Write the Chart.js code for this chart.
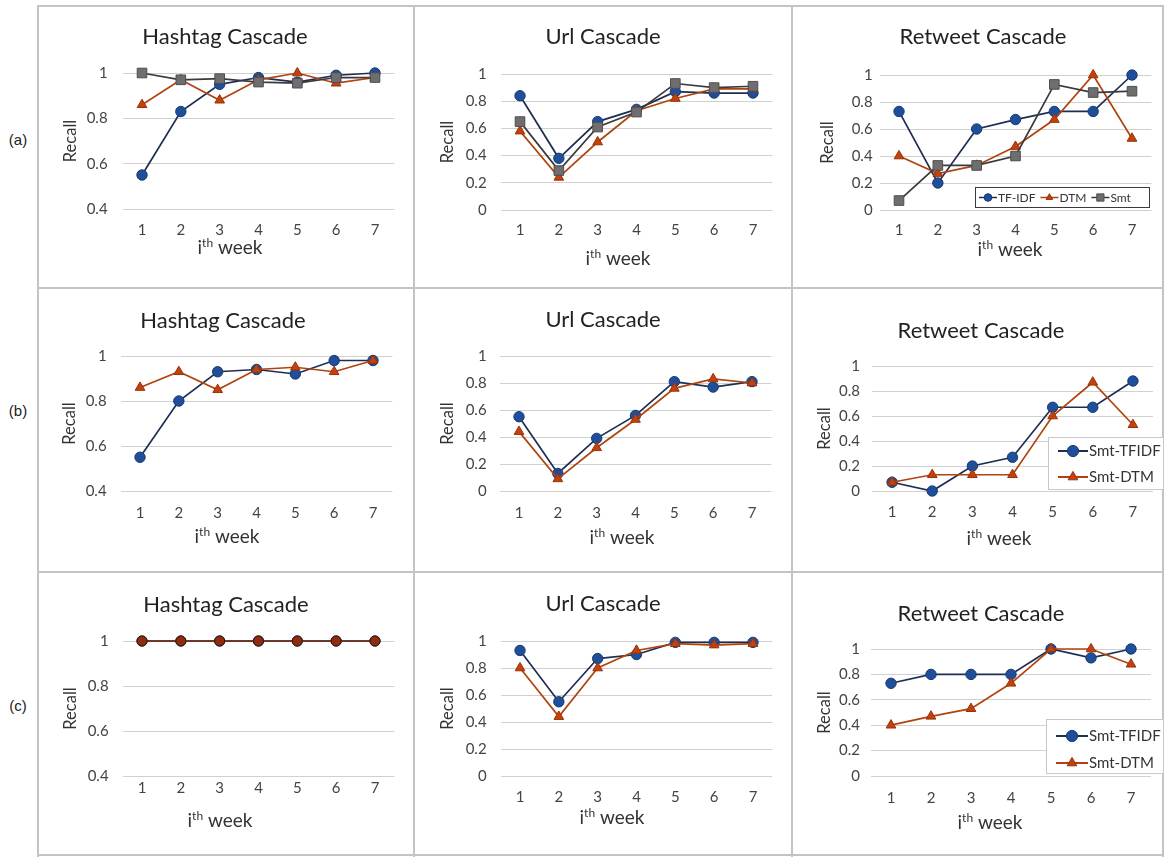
<!DOCTYPE html>
<html><head><meta charset="utf-8">
<script src="https://cdn.jsdelivr.net/npm/chart.js@4.4.0/dist/chart.umd.min.js"></script>
<style>
html,body{margin:0;padding:0;background:#fff;overflow:hidden;width:1164px;height:857px;}
.ln{position:absolute;background:#c4c4c4;}
.lab{position:absolute;font-family:'Liberation Sans',Arial,sans-serif;font-size:15px;color:#222;transform:translate(-50%,-50%);}
canvas{position:absolute;}
</style></head><body>
<div class="lab" style="left:18px;top:139px">(a)</div>
<div class="lab" style="left:18px;top:410px">(b)</div>
<div class="lab" style="left:18px;top:705px">(c)</div>
<div class="ln" style="left:37px;top:6px;width:2px;height:851px"></div>
<div class="ln" style="left:413px;top:6px;width:2px;height:851px"></div>
<div class="ln" style="left:791px;top:6px;width:2px;height:851px"></div>
<div class="ln" style="left:1162px;top:6px;width:2px;height:851px"></div>
<div class="ln" style="left:37px;top:5px;width:1127px;height:2px"></div>
<div class="ln" style="left:37px;top:287px;width:1127px;height:2px"></div>
<div class="ln" style="left:37px;top:571px;width:1127px;height:2px"></div>
<div class="ln" style="left:37px;top:854px;width:1127px;height:2px"></div>
<script>
// ---------------- data ----------------
const weeks = ['1','2','3','4','5','6','7'];
const xTitleParts = ['i', 'th', ' week'];
const yTitle = 'Recall';
const titles = ['Hashtag Cascade', 'Url Cascade', 'Retweet Cascade'];
const seriesNamesA = ['TF-IDF', 'DTM', 'Smt'];
const seriesNamesBC = ['Smt-TFIDF', 'Smt-DTM'];
const yMins = [0.4, 0, 0];

// (a)
const hashA_tfidf = [0.55, 0.83, 0.95, 0.98, 0.96, 0.99, 1.00];
const hashA_dtm   = [0.86, 0.97, 0.88, 0.97, 1.00, 0.955, 0.98];
const hashA_smt   = [1.00, 0.97, 0.975, 0.96, 0.955, 0.98, 0.98];
const urlA_tfidf  = [0.84, 0.38, 0.65, 0.74, 0.87, 0.86, 0.86];
const urlA_dtm    = [0.58, 0.24, 0.50, 0.73, 0.82, 0.89, 0.89];
const urlA_smt    = [0.65, 0.29, 0.61, 0.72, 0.93, 0.90, 0.91];
const rtA_tfidf   = [0.73, 0.20, 0.60, 0.67, 0.73, 0.73, 1.00];
const rtA_dtm     = [0.40, 0.27, 0.33, 0.47, 0.67, 1.00, 0.53];
const rtA_smt     = [0.07, 0.33, 0.33, 0.40, 0.93, 0.87, 0.88];
// (b)
const hashB_tfidf = [0.55, 0.80, 0.93, 0.94, 0.92, 0.98, 0.98];
const hashB_dtm   = [0.86, 0.93, 0.85, 0.94, 0.95, 0.93, 0.98];
const urlB_tfidf  = [0.55, 0.13, 0.39, 0.56, 0.81, 0.77, 0.81];
const urlB_dtm    = [0.44, 0.09, 0.32, 0.53, 0.76, 0.83, 0.80];
const rtB_tfidf   = [0.07, 0.00, 0.20, 0.27, 0.67, 0.67, 0.88];
const rtB_dtm     = [0.07, 0.13, 0.13, 0.13, 0.60, 0.87, 0.53];
// (c)
const hashC_tfidf = [1, 1, 1, 1, 1, 1, 1];
const hashC_dtm   = [1, 1, 1, 1, 1, 1, 1];
const urlC_tfidf  = [0.93, 0.55, 0.87, 0.90, 0.99, 0.99, 0.99];
const urlC_dtm    = [0.80, 0.44, 0.80, 0.93, 0.98, 0.97, 0.98];
const rtC_tfidf   = [0.73, 0.80, 0.80, 0.80, 1.00, 0.93, 1.00];
const rtC_dtm     = [0.40, 0.47, 0.53, 0.73, 1.00, 1.00, 0.88];

// ---------------- styling ----------------
const FONT = 'Lato, "Liberation Sans", sans-serif';
Chart.defaults.font.family = FONT;
const STY = {
  tfidf: {borderColor:'#1e2d50', pointBackgroundColor:'#1f4e9a', pointBorderColor:'#173a70', pointStyle:'circle', pointRadius:5.2},
  dtm:   {borderColor:'#b0440f', pointBackgroundColor:'#c2410c', pointBorderColor:'#983208', pointStyle:'triangle', pointRadius:5.6},
  smt:   {borderColor:'#3a3a3a', pointBackgroundColor:'#6e6e6e', pointBorderColor:'#4e4e4e', pointStyle:'rect', pointRadius:6.8},
  dtmDot:{borderColor:'#7a2a10', pointBackgroundColor:'#8e2c10', pointBorderColor:'#3d1408', pointStyle:'circle', pointRadius:5}
};
function ds(label, data, sty, order) {
  return Object.assign({label, data, order, borderWidth:1.7, pointBorderWidth:1, pointHoverRadius:5, tension:0, clip:false, fill:false}, STY[sty]);
}

function drawMarker(ctx, style, x, y, r, fill, stroke) {
  ctx.beginPath();
  if (style === 'circle') ctx.arc(x, y, r, 0, Math.PI*2);
  else if (style === 'triangle') {
    ctx.moveTo(x, y - r);
    ctx.lineTo(x + r*0.866, y + r*0.5);
    ctx.lineTo(x - r*0.866, y + r*0.5);
    ctx.closePath();
  } else { const s = r*Math.SQRT1_2; ctx.rect(x - s, y - s, 2*s, 2*s); }
  ctx.fillStyle = fill; ctx.fill();
  ctx.lineWidth = 1; ctx.strokeStyle = stroke; ctx.stroke();
}

const boxLegend = {
  id: 'boxLegend',
  afterDraw(chart, args, o) {
    if (!o || !o.box) return;
    const ctx = chart.ctx, ox = o.ox, oy = o.oy;
    ctx.save();
    const [bx, by, bw, bh] = o.box;
    ctx.fillStyle = '#fff';
    ctx.fillRect(bx - ox, by - oy, bw, bh);
    ctx.strokeStyle = o.border; ctx.lineWidth = 1;
    ctx.strokeRect(bx - ox + 0.5, by - oy + 0.5, bw - 1, bh - 1);
    ctx.font = o.size + 'px ' + FONT;
    ctx.textBaseline = 'middle'; ctx.textAlign = 'left';
    let x = o.x - ox;
    chart.data.datasets.forEach((d, i) => {
      const y = (o.rows ? o.rows[i] : o.y) - oy;
      if (o.rows) x = o.x - ox;
      ctx.strokeStyle = d.borderColor; ctx.lineWidth = o.lw;
      ctx.beginPath(); ctx.moveTo(x, y); ctx.lineTo(x + o.symW, y); ctx.stroke();
      drawMarker(ctx, d.pointStyle, x + o.symW/2, y, o.mr * (d.pointStyle === 'rect' ? 1.35 : 1), d.pointBackgroundColor, d.pointBorderColor);
      ctx.fillStyle = '#333';
      ctx.fillText(d.label, x + o.symW + 1, y + 0.5);
      x += o.symW + 1 + ctx.measureText(d.label).width + o.gap;
    });
    ctx.restore();
  }
};

const weekTitle = {
  id: 'weekTitle',
  afterDraw(chart, args, o) {
    if (!o || o.x == null) return;
    const ctx = chart.ctx;
    ctx.save();
    ctx.fillStyle = '#333';
    ctx.textBaseline = 'alphabetic'; ctx.textAlign = 'left';
    const big = o.size + 'px ' + FONT, small = Math.round(o.size*0.62) + 'px ' + FONT;
    ctx.font = big; const wi = ctx.measureText(xTitleParts[0]).width, ww = ctx.measureText(xTitleParts[2]).width;
    ctx.font = small; const wt = ctx.measureText(xTitleParts[1]).width;
    let x = o.x - o.ox - (wi + wt + ww)/2;
    const base = o.y - o.oy + o.size*0.33;
    ctx.font = big; ctx.fillText(xTitleParts[0], x, base); x += wi;
    ctx.font = small; ctx.fillText(xTitleParts[1], x, base - o.size*0.36); x += wt;
    ctx.font = big; ctx.fillText(xTitleParts[2], x, base);
    ctx.restore();
  }
};
Chart.register(boxLegend, weekTitle);

// ---------------- layout (absolute page pixels) ----------------
const ROWS = [[9, 286], [291, 570], [575, 853]];
const P = [
  {col:0,row:0, tc:225, ty:37,  pl:122.6, pr:394.4, pt:73,  pb:209, tly:230, xtx:230,  xty:248, ytx:71,  ytp:15},
  {col:1,row:0, tc:603, ty:37,  pl:500.6, pr:772.4, pt:74,  pb:210, tly:230, xtx:618,  xty:259, ytx:448, ytp:14},
  {col:2,row:0, tc:983, ty:37,  pl:879.6, pr:1151.4,pt:75,  pb:210, tly:230, xtx:1010, xty:250, ytx:828, ytp:7},
  {col:0,row:1, tc:223, ty:321, pl:120.6, pr:392.4, pt:356, pb:491, tly:513, xtx:227,  xty:537, ytx:70,  ytp:14},
  {col:1,row:1, tc:603, ty:320, pl:499.6, pr:771.4, pt:356, pb:491, tly:513, xtx:622,  xty:538, ytx:448, ytp:13},
  {col:2,row:1, tc:981, ty:331, pl:872,   pr:1153,  pt:366, pb:491, tly:512, xtx:999,  xty:539, ytx:825, ytp:12},
  {col:0,row:2, tc:226, ty:605, pl:122.6, pr:394.4, pt:641, pb:776, tly:788, xtx:220,  xty:821, ytx:71,  ytp:14},
  {col:1,row:2, tc:603, ty:604, pl:500.6, pr:772.4, pt:641, pb:776, tly:797, xtx:612,  xty:818, ytx:448, ytp:14},
  {col:2,row:2, tc:981, ty:614, pl:871,   pr:1151,  pt:649, pb:776, tly:798, xtx:990,  xty:823, ytx:825, ytp:11}
];
const LEG = {
  2: {box:[975,187,175,21], x:979, y:197.5, size:12, symW:18, gap:5, lw:1.5, mr:3.8, border:'#3a3a3a'},
  5: {box:[1048,437,116,53], x:1058, rows:[451,477], size:15, symW:30, gap:0, lw:2, mr:5.6, border:'#c8c8c8'},
  8: {box:[1046,719,118,55], x:1056, rows:[736,763], size:15, symW:32, gap:0, lw:2, mr:5.6, border:'#c8c8c8'}
};

const DATASETS = [
  [ds(seriesNamesA[0], hashA_tfidf,'tfidf',3), ds(seriesNamesA[1], hashA_dtm,'dtm',2), ds(seriesNamesA[2], hashA_smt,'smt',1)],
  [ds(seriesNamesA[0], urlA_tfidf,'tfidf',3),  ds(seriesNamesA[1], urlA_dtm,'dtm',2),  ds(seriesNamesA[2], urlA_smt,'smt',1)],
  [ds(seriesNamesA[0], rtA_tfidf,'tfidf',3),   ds(seriesNamesA[1], rtA_dtm,'dtm',2),   ds(seriesNamesA[2], rtA_smt,'smt',1)],
  [ds(seriesNamesBC[0], hashB_tfidf,'tfidf',2), ds(seriesNamesBC[1], hashB_dtm,'dtm',1)],
  [ds(seriesNamesBC[0], urlB_tfidf,'tfidf',2),  ds(seriesNamesBC[1], urlB_dtm,'dtm',1)],
  [ds(seriesNamesBC[0], rtB_tfidf,'tfidf',2),   ds(seriesNamesBC[1], rtB_dtm,'dtm',1)],
  [ds(seriesNamesBC[0], hashC_tfidf,'tfidf',2), ds(seriesNamesBC[1], hashC_dtm,'dtmDot',1)],
  [ds(seriesNamesBC[0], urlC_tfidf,'tfidf',2),  ds(seriesNamesBC[1], urlC_dtm,'dtm',1)],
  [ds(seriesNamesBC[0], rtC_tfidf,'tfidf',2),   ds(seriesNamesBC[1], rtC_dtm,'dtm',1)]
];

const TS = 22, TLH = TS*1.2, TKS = 15, YTS = 16.5, XH = 50, PT = 11;
P.forEach((p, i) => {
  const D = p.col === 2 ? 1164 - p.tc : 185;
  const cl = p.tc - D, cw = 2*D;
  const [ct, cb] = ROWS[p.row];
  const ch = cb - ct;
  const r = cl + cw - p.pr;
  const yW = p.pl - (cl + r);
  const tpTop = p.ty - ct - PT - TLH/2;
  const tpBot = p.pt - p.ty - TLH/2;
  const pB = cb - p.pb - XH;
  const tickPad = p.tly - p.pb - TKS*1.2/2;
  const yTitlePad = p.ytx - (cl + r) - YTS*1.2/2;
  const cv = document.createElement('canvas');
  cv.width = cw; cv.height = ch;
  cv.style.left = cl + 'px'; cv.style.top = ct + 'px';
  document.body.appendChild(cv);
  const leg = LEG[i] ? Object.assign({ox:cl, oy:ct}, LEG[i]) : {};
  new Chart(cv, {
    type: 'line',
    data: {labels: weeks, datasets: DATASETS[i]},
    options: {
      responsive: false, animation: false, devicePixelRatio: 1,
      layout: {padding: {left: r, right: r, top: PT, bottom: pB}},
      plugins: {
        legend: {display: false}, tooltip: {enabled: false},
        title: {display: true, text: titles[p.col], color: '#222', font: {size: TS, weight: 'normal', lineHeight: 1.2}, padding: {top: tpTop, bottom: tpBot}},
        boxLegend: leg,
        weekTitle: {x: p.xtx, y: p.xty, ox: cl, oy: ct, size: 19}
      },
      scales: {
        x: {
          type: 'category', offset: true,
          grid: {display: false, drawTicks: false}, border: {display: false},
          ticks: {padding: tickPad, color: '#444', font: {size: TKS}, maxRotation: 0, autoSkip: false},
          afterFit: (s) => { s.height = XH; }
        },
        y: {
          min: yMins[p.col], max: 1,
          grid: {color: '#d0d0d0', lineWidth: 1, drawTicks: false}, border: {display: false},
          ticks: {stepSize: 0.2, padding: p.ytp, color: '#444', font: {size: TKS}, callback: (v) => String(Math.round(v*10)/10)},
          title: {display: true, text: yTitle, color: '#333', font: {size: YTS, lineHeight: 1.2}, padding: {top: yTitlePad, bottom: 0}},
          afterFit: (s) => { s.width = yW; }
        }
      }
    }
  });
});
</script>
</body></html>
